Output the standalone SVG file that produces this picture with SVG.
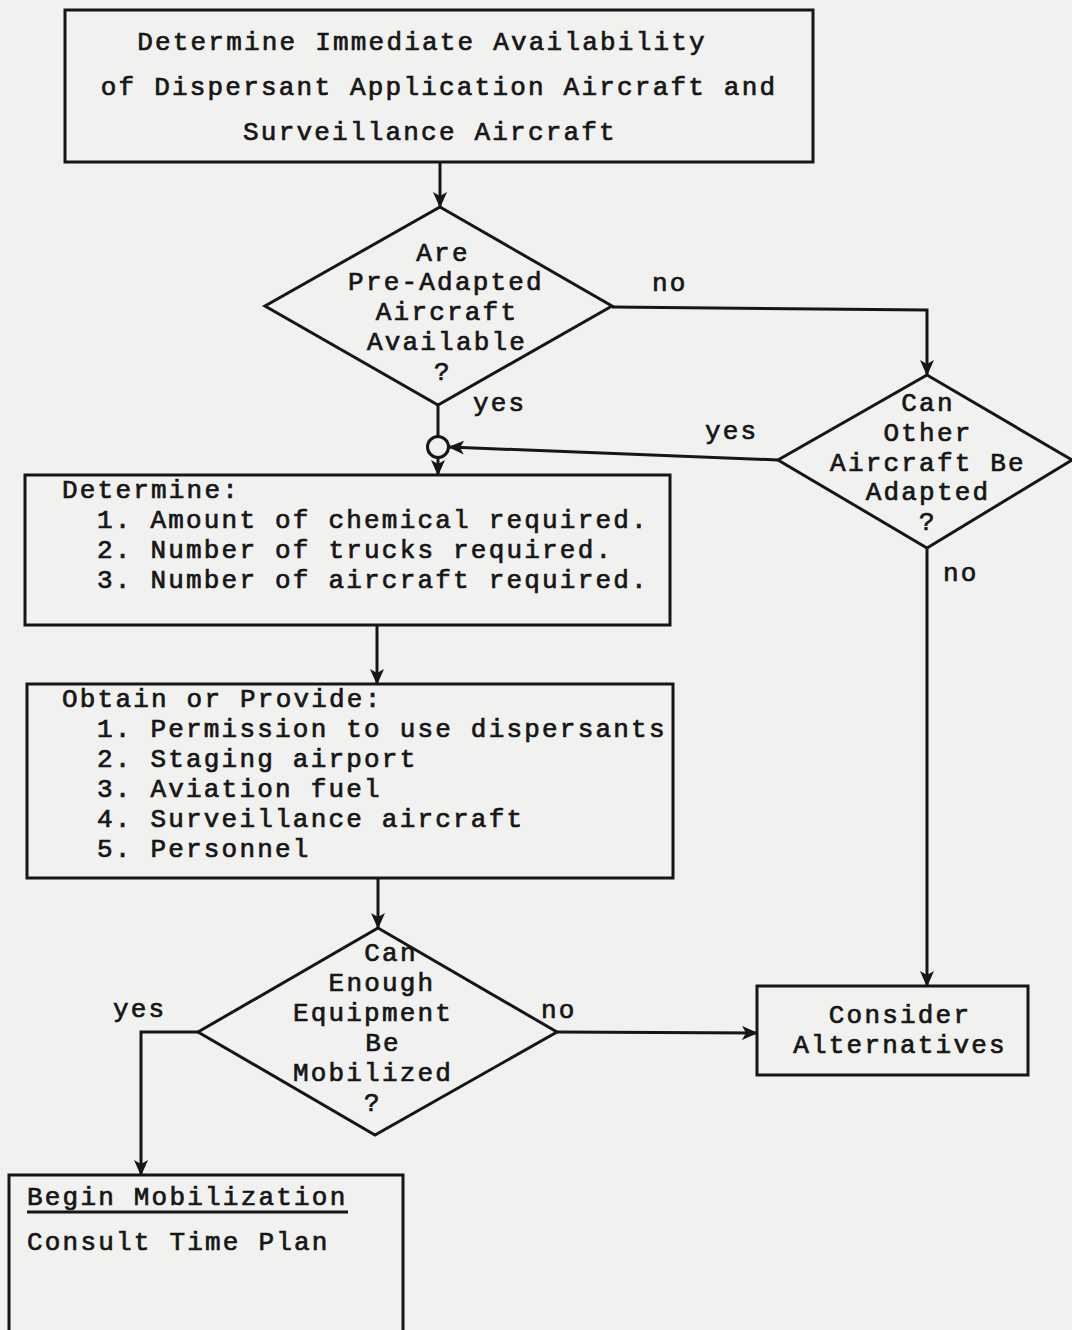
<svg xmlns="http://www.w3.org/2000/svg" width="1072" height="1330" viewBox="0 0 1072 1330">
<style>
.box{fill:none;stroke:#161616;stroke-width:3}
.ln{fill:none;stroke:#161616;stroke-width:3}
.t{font-family:"Liberation Mono","DejaVu Sans Mono",monospace;font-size:26px;letter-spacing:2.2px;fill:#161616;stroke:#161616;stroke-width:0.7}
.c{text-anchor:middle}
</style>
<defs>
<marker id="ah" markerUnits="userSpaceOnUse" markerWidth="16" markerHeight="14" refX="15" refY="7" orient="auto">
<path d="M0,0 L16,7 L0,14 L4,7 Z" fill="#161616"/>
</marker>
</defs>
<rect width="1072" height="1330" fill="#f1f1f0"/>
<g id="connectors">
<path class="ln" d="M440,162 V207" marker-end="url(#ah)"/>
<path class="ln" d="M438,405 V437"/>
<path class="ln" d="M438,458 V475" marker-end="url(#ah)"/>
<path class="ln" d="M612,307 L927,310 V375" marker-end="url(#ah)"/>
<path class="ln" d="M778,460 L449,447" marker-end="url(#ah)"/>
<path class="ln" d="M927,548 V986" marker-end="url(#ah)"/>
<path class="ln" d="M377,625 V684" marker-end="url(#ah)"/>
<path class="ln" d="M378,878 V928" marker-end="url(#ah)"/>
<path class="ln" d="M198,1032 H141 V1175" marker-end="url(#ah)"/>
<path class="ln" d="M557,1032 L757,1033" marker-end="url(#ah)"/>
<circle class="ln" cx="438" cy="447" r="10.5"/>
<text class="t" x="652" y="291">no</text>
<text class="t" x="473" y="411">yes</text>
<text class="t" x="705" y="439">yes</text>
<text class="t" x="943" y="581">no</text>
<text class="t" x="113" y="1017">yes</text>
<text class="t" x="541" y="1018">no</text>
</g>
<g id="n_availability">
<rect class="box" x="65" y="10" width="748" height="152"/>
<text class="t c" x="422" y="50">Determine Immediate Availability</text>
<text class="t c" x="439" y="95">of Dispersant Application Aircraft and</text>
<text class="t c" x="430" y="140">Surveillance Aircraft</text>
</g>
<g id="n_preadapted">
<polygon class="box" points="440,207 612,306 438,405 265,306"/>
<text class="t c" x="443" y="261">Are</text>
<text class="t c" x="446" y="290">Pre-Adapted</text>
<text class="t c" x="447" y="320">Aircraft</text>
<text class="t c" x="447" y="350">Available</text>
<text class="t c" x="443" y="380">?</text>
</g>
<g id="n_otheraircraft">
<polygon class="box" points="927,375 1072,460 927,548 778,460"/>
<text class="t c" x="928" y="411">Can</text>
<text class="t c" x="928" y="441">Other</text>
<text class="t c" x="928" y="471">Aircraft Be</text>
<text class="t c" x="928" y="500">Adapted</text>
<text class="t c" x="928" y="530">?</text>
</g>
<g id="n_determine">
<rect class="box" x="25" y="475" width="645" height="150"/>
<text class="t" x="62" y="498">Determine:</text>
<text class="t" x="97" y="528">1. Amount of chemical required.</text>
<text class="t" x="97" y="558">2. Number of trucks required.</text>
<text class="t" x="97" y="588">3. Number of aircraft required.</text>
</g>
<g id="n_obtain">
<rect class="box" x="27" y="684" width="646" height="194"/>
<text class="t" x="62" y="707">Obtain or Provide:</text>
<text class="t" x="97" y="737">1. Permission to use dispersants</text>
<text class="t" x="97" y="767">2. Staging airport</text>
<text class="t" x="97" y="797">3. Aviation fuel</text>
<text class="t" x="97" y="827">4. Surveillance aircraft</text>
<text class="t" x="97" y="857">5. Personnel</text>
</g>
<g id="n_mobilize">
<polygon class="box" points="378,928 557,1032 375,1135 198,1032"/>
<text class="t c" x="391" y="961">Can</text>
<text class="t c" x="382" y="991">Enough</text>
<text class="t c" x="373" y="1021">Equipment</text>
<text class="t c" x="383" y="1051">Be</text>
<text class="t c" x="373" y="1081">Mobilized</text>
<text class="t c" x="373" y="1111">?</text>
</g>
<g id="n_alternatives">
<rect class="box" x="757" y="986" width="271" height="89"/>
<text class="t c" x="900" y="1023">Consider</text>
<text class="t c" x="900" y="1053">Alternatives</text>
</g>
<g id="n_begin">
<rect class="box" x="9" y="1175" width="394" height="170"/>
<text class="t" x="27" y="1205">Begin Mobilization</text>
<line class="ln" x1="27" y1="1212" x2="348" y2="1212" stroke-width="2"/>
<text class="t" x="27" y="1250">Consult Time Plan</text>
</g>
</svg>
